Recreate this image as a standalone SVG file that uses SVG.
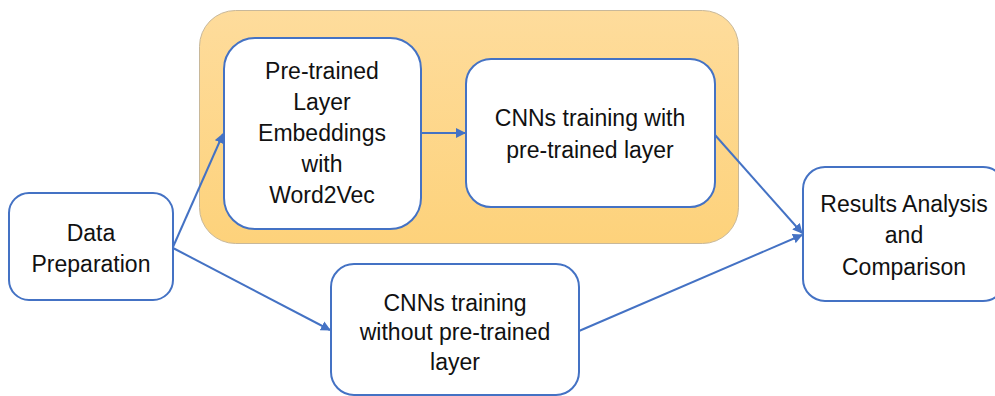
<svg xmlns="http://www.w3.org/2000/svg" width="995" height="396" viewBox="0 0 995 396">
<defs>
<linearGradient id="gold" x1="0" y1="0" x2="0" y2="1">
<stop offset="0" stop-color="#FEDC9C"/>
<stop offset="1" stop-color="#FDD27B"/>
</linearGradient>
<marker id="arr" viewBox="0 0 10 10" refX="9" refY="5" markerWidth="5" markerHeight="5" orient="auto" markerUnits="strokeWidth">
<path d="M0,0 L10,5 L0,10 z" fill="#4472C4"/>
</marker>
<style>
.box{fill:#fff;stroke:#4472C4;stroke-width:2}
.t{font-family:"Liberation Sans",Arial,sans-serif;font-size:23px;fill:#111;text-anchor:middle}
.c{fill:none;stroke:#4472C4;stroke-width:2;marker-end:url(#arr)}
</style>
</defs>
<rect width="995" height="396" fill="#fff"/>
<g id="container">
<rect x="199.5" y="10.5" width="539" height="233" rx="36" fill="url(#gold)" stroke="#C8B89A" stroke-width="1"/>
</g>
<g id="connectors">
<line class="c" x1="173" y1="247" x2="223" y2="134"/>
<line class="c" x1="173" y1="248" x2="330" y2="330"/>
<line class="c" x1="421" y1="133" x2="465" y2="133"/>
<line class="c" x1="715" y1="135" x2="802" y2="233"/>
<line class="c" x1="579" y1="331" x2="802" y2="235"/>
</g>
<g id="data-preparation">
<rect class="box" x="9" y="193" width="164" height="107" rx="20"/>
<text class="t" x="91" y="241">Data</text>
<text class="t" x="91" y="272">Preparation</text>
</g>
<g id="pretrained-embeddings">
<rect class="box" x="224" y="38" width="197" height="191" rx="31"/>
<text class="t" x="322" y="79">Pre-trained</text>
<text class="t" x="322" y="110">Layer</text>
<text class="t" x="322" y="141">Embeddings</text>
<text class="t" x="322" y="172">with</text>
<text class="t" x="322" y="203">Word2Vec</text>
</g>
<g id="cnn-with">
<rect class="box" x="466" y="59" width="249" height="148" rx="25"/>
<text class="t" x="590" y="126">CNNs training with</text>
<text class="t" x="590" y="158">pre-trained layer</text>
</g>
<g id="cnn-without">
<rect class="box" x="331" y="264" width="248" height="131" rx="23"/>
<text class="t" x="455" y="311">CNNs training</text>
<text class="t" x="455" y="340">without pre-trained</text>
<text class="t" x="455" y="370">layer</text>
</g>
<g id="results">
<rect class="box" x="803" y="167" width="202" height="134" rx="22"/>
<text class="t" x="904" y="212">Results Analysis</text>
<text class="t" x="904" y="243">and</text>
<text class="t" x="904" y="275">Comparison</text>
</g>
</svg>
